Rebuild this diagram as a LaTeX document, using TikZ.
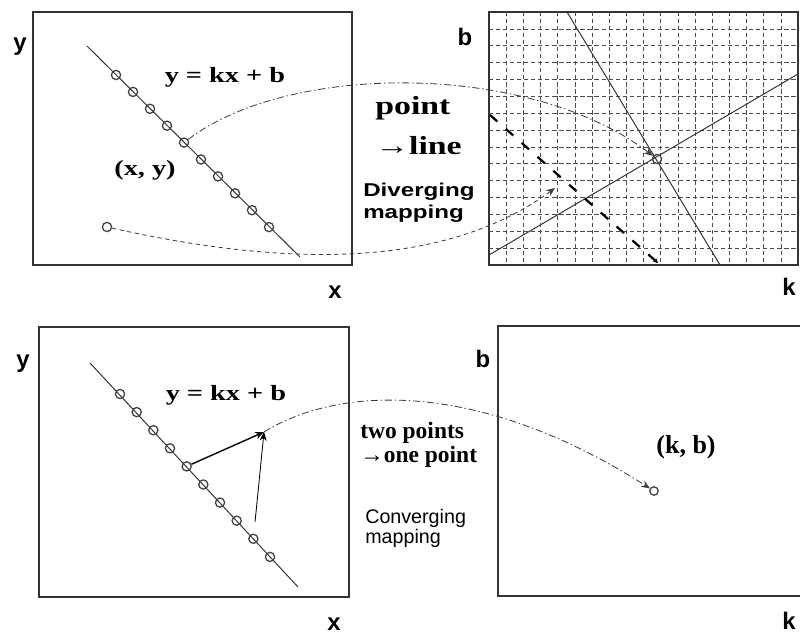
\documentclass[tikz,border=0pt]{standalone}
\usepackage{fontspec}
\usepackage{tikz}
\usetikzlibrary{arrows.meta}
\newfontfamily\eqfont{Liberation Serif}[FakeStretch=1.3]
\newfontfamily\capfont{Liberation Serif}
\newfontfamily\axfont{Liberation Sans}
\newfontfamily\mapfont{Liberation Sans}[FakeStretch=1.3]

\begin{document}
\begin{tikzpicture}[
        x=0.025cm, y=-0.025cm,
        >={Stealth[length=2.2mm, width=1.8mm]},
        frame/.style={draw=black!80, line width=1pt},
        trace/.style={draw=black!80, line width=0.7pt},
        dot/.style={
            circle,
            draw=black!75,
            line width=0.9pt,
            minimum size=2.3mm,
            inner sep=0pt
        },
        gridline/.style={draw=black!70, line width=0.5pt, dash pattern=on 3pt off 2pt},
        trail/.style={->, draw=black!75, line width=0.6pt, dash pattern=on 5pt off 2pt on 1pt off 2pt},
        dashtrail/.style={->, draw=black!75, line width=0.6pt, dash pattern=on 3pt off 2.5pt},
        axis/.style={font=\axfont\bfseries\fontsize{17}{17}\selectfont, inner sep=0pt},
        eq/.style={font=\eqfont\bfseries\fontsize{15.5}{15.5}\selectfont, inner sep=0pt},
        note/.style={align=left, anchor=north west, inner sep=0pt}
    ]
    \useasboundingbox (0,0) rectangle (800,636);

    % Image space, top
    \draw[frame] (33,12) rectangle (352,265);
    \coordinate (tla) at (87,46);
    \coordinate (tlb) at (300,257);
    \draw[trace] (tla) -- (tlb);
    \foreach \i in {1,...,10}
        \node[dot] (pt\i) at ({116+17*(\i-1)}, {75+16.9*(\i-1)}) {};
    \node[dot] (outlier) at (107,227) {};
    \node[eq] (eqtop) at (225,77) {y = kx + b};
    \node[eq] (xy) at (145,170) {(x, y)};
    \node[axis] (ytop) at (20,47) {y};
    \node[axis] (xtop) at (335,292) {x};

    % Parameter space, top
    \draw[frame] (489,12) rectangle (798,265);
    \foreach \i in {1,...,17}
        \draw[gridline] ({489+17.17*\i},12) -- ({489+17.17*\i},265);
    \foreach \j in {1,...,14}
        \draw[gridline] (489,{12+16.87*\j}) -- (798,{12+16.87*\j});
    \coordinate (l1a) at (567,12);
    \coordinate (l1b) at (720,265);
    \coordinate (l2a) at (489,255);
    \coordinate (l2b) at (798,74);
    \coordinate (l3a) at (490,115);
    \coordinate (l3b) at (658,263);
    \draw[trace] (l1a) -- (l1b);
    \draw[trace] (l2a) -- (l2b);
    \draw[->, draw=black, line width=1.6pt, dash pattern=on 7pt off 8pt,
        >={Stealth[length=1.2mm, width=1.2mm]}] (l3a) -- (l3b);
    \node[dot] (hub) at (657,159) {};
    \coordinate (div) at (555,188);
    \node[axis] (btop) at (465,37) {b};
    \node[axis] (ktop) at (789,287) {k};

    % Diverging arrows
    \draw[trail] (pt5) .. controls (290,62) and (530,62) .. (hub);
    \draw[dashtrail] (outlier) .. controls (300,270) and (450,265) .. (div);
    \node[note, font=\eqfont\bfseries\fontsize{18.5}{28.5}\selectfont] (ptline) at (375,96)
        {point\\→line};
    \node[note, font=\mapfont\bfseries\fontsize{13.2}{15.6}\selectfont] (divmap) at (363,183)
        {Diverging\\mapping};

    % Image space, bottom
    \draw[frame] (39,327) rectangle (349,597);
    \coordinate (bla) at (90,363);
    \coordinate (blb) at (298,587);
    \draw[trace] (bla) -- (blb);
    \foreach \i in {1,...,10}
        \node[dot] (qt\i) at ({120+16.67*(\i-1)}, {394+18.1*(\i-1)}) {};
    \coordinate (pair) at (264,432);
    \draw[->, draw=black, line width=1pt] (qt5) -- (pair);
    \draw[->, draw=black, line width=0.6pt, shorten <=3mm] (qt9) -- (pair);
    \node[eq] (eqbot) at (226,395) {y = kx + b};
    \node[axis] (ybot) at (23,364) {y};
    \node[axis] (xbot) at (334,624) {x};

    % Parameter space, bottom
    \draw[frame] (800,326) -- (498,326) -- (498,596) -- (800,596);
    \node[dot, minimum size=2.1mm] (kb) at (654,491) {};
    \node[font=\capfont\bfseries\fontsize{18.5}{18.5}\selectfont, inner sep=0pt] (kblab) at (686,447) {(k, b)};
    \node[axis] (bbot) at (483,359) {b};
    \node[axis] (kbot) at (789,621) {k};

    % Converging arrow
    \draw[trail] (pair) .. controls (340,385) and (480,380) .. (kb);
    \node[note, font=\capfont\bfseries\fontsize{16.7}{17}\selectfont] (twoone) at (360,422)
        {two points\\→one point};
    \node[note, font=\axfont\fontsize{14}{14.5}\selectfont] (convmap) at (365,509)
        {Converging\\mapping};

\end{tikzpicture}
\end{document}
